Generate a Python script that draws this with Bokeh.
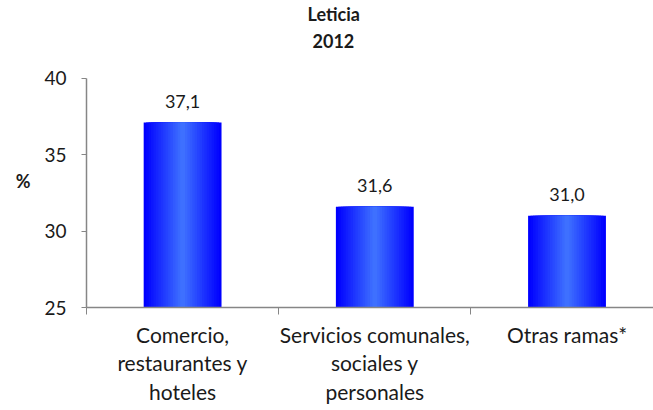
from bokeh.plotting import figure
from bokeh.models import Range1d, FixedTicker, Label, Title
from bokeh.embed import file_html
from bokeh.resources import INLINE
from bokeh.core.properties import value

title_lines = ["Leticia", "2012"]
categories = ["Comercio,\nrestaurantes y\nhoteles",
              "Servicios comunales,\nsociales y\npersonales",
              "Otras ramas*"]
values = [37.1, 31.6, 31.0]
y_ticks = [25, 30, 35, 40]
y_label = "%"

FONT = "Lato"
AXIS_COLOR = "#868686"
TEXT_COLOR = "#1a1a1a"

# layout (pixels)
W, H = 653, 410
FRAME_TOP, AXIS_TOP, FRAME_BOTTOM, FRAME_LEFT = 52, 76, 307, 86
y_span = y_ticks[-1] - y_ticks[0]
y_end = y_ticks[0] + y_span * (FRAME_BOTTOM - FRAME_TOP) / (FRAME_BOTTOM - AXIS_TOP)

centers = [i + 0.5 for i in range(len(categories))]
bounds = list(range(len(categories) + 1))
value_labels = [f"{v:.1f}".replace(".", ",") for v in values]

p = figure(width=W, height=H, output_backend="svg", toolbar_location=None,
           x_range=Range1d(0, 2.95), y_range=Range1d(y_ticks[0], y_end),
           min_border_left=FRAME_LEFT, min_border_right=0, min_border_top=FRAME_TOP,
           min_border_bottom=H - FRAME_BOTTOM)
p.xgrid.visible = False
p.ygrid.visible = False
p.outline_line_color = None
p.background_fill_color = "white"
p.border_fill_color = "white"

# gradient bars: layered vbars from the same data
bar_w = 0.405
n = 16
c0 = (0, 0, 255)
c1 = (62, 112, 255)
for k in range(n):
    t = k / (n - 1)
    col = "#%02x%02x%02x" % tuple(int(round(a + (b - a) * t)) for a, b in zip(c0, c1))
    w = bar_w * (1 - k / n)
    p.vbar(x=centers, top=values, bottom=y_ticks[0], width=w,
           fill_color=col, line_color=None)

p.text(x=centers, y=values, text=value_labels, text_align="center",
       text_baseline="middle", y_offset=-21, text_font=value(FONT),
       text_font_size="18px", text_color=TEXT_COLOR)

# x axis
xa = p.xaxis[0]
xa.ticker = FixedTicker(ticks=centers, minor_ticks=bounds)
xa.major_label_overrides = {c: lab for c, lab in zip(centers, categories)}
xa.major_tick_out = 0
xa.major_tick_in = 0
xa.minor_tick_out = 7
xa.minor_tick_in = 0
xa.minor_tick_line_color = AXIS_COLOR
xa.axis_line_color = AXIS_COLOR
xa.axis_line_width = 1.5
xa.major_label_standoff = 7
xa.major_label_text_font = FONT
xa.major_label_text_font_size = "21px"
xa.major_label_text_color = TEXT_COLOR
xa.major_label_text_line_height = 1.15

# y axis
ya = p.yaxis[0]
ya.ticker = FixedTicker(ticks=y_ticks, minor_ticks=[])
ya.bounds = (y_ticks[0], y_ticks[-1])
ya.major_tick_out = 5
ya.major_tick_in = 0
ya.major_tick_line_color = AXIS_COLOR
ya.axis_line_color = AXIS_COLOR
ya.axis_line_width = 1.5
ya.major_label_standoff = 15
ya.major_label_text_font = FONT
ya.major_label_text_font_size = "19px"
ya.major_label_text_color = TEXT_COLOR

if "axis_label_orientation" in ya.properties():
    ya.axis_label = y_label
    ya.axis_label_orientation = "horizontal"
    ya.axis_label_standoff = 11
    ya.axis_label_text_font = FONT
    ya.axis_label_text_font_size = "18px"
    ya.axis_label_text_font_style = "bold"
    ya.axis_label_text_color = TEXT_COLOR
    ya.axis_label_text_baseline = "top"
else:
    p.add_layout(Label(x=22, y=215, x_units="screen", y_units="screen",
                       text=y_label, text_align="center", text_baseline="middle",
                       text_font=FONT, text_font_size="18px",
                       text_font_style="bold", text_color=TEXT_COLOR))

# title: two lines, nearest-to-frame added first
p.add_layout(Title(text=title_lines[1], align="left", offset=226, standoff=14,
                   text_font=FONT, text_font_size="18px", text_font_style="bold",
                   text_color=TEXT_COLOR), "above")
p.add_layout(Title(text=title_lines[0], align="left", offset=221, standoff=0,
                   text_font=FONT, text_font_size="18px", text_font_style="bold",
                   text_color=TEXT_COLOR), "above")

open("out.html", "w").write(file_html(p, INLINE))
